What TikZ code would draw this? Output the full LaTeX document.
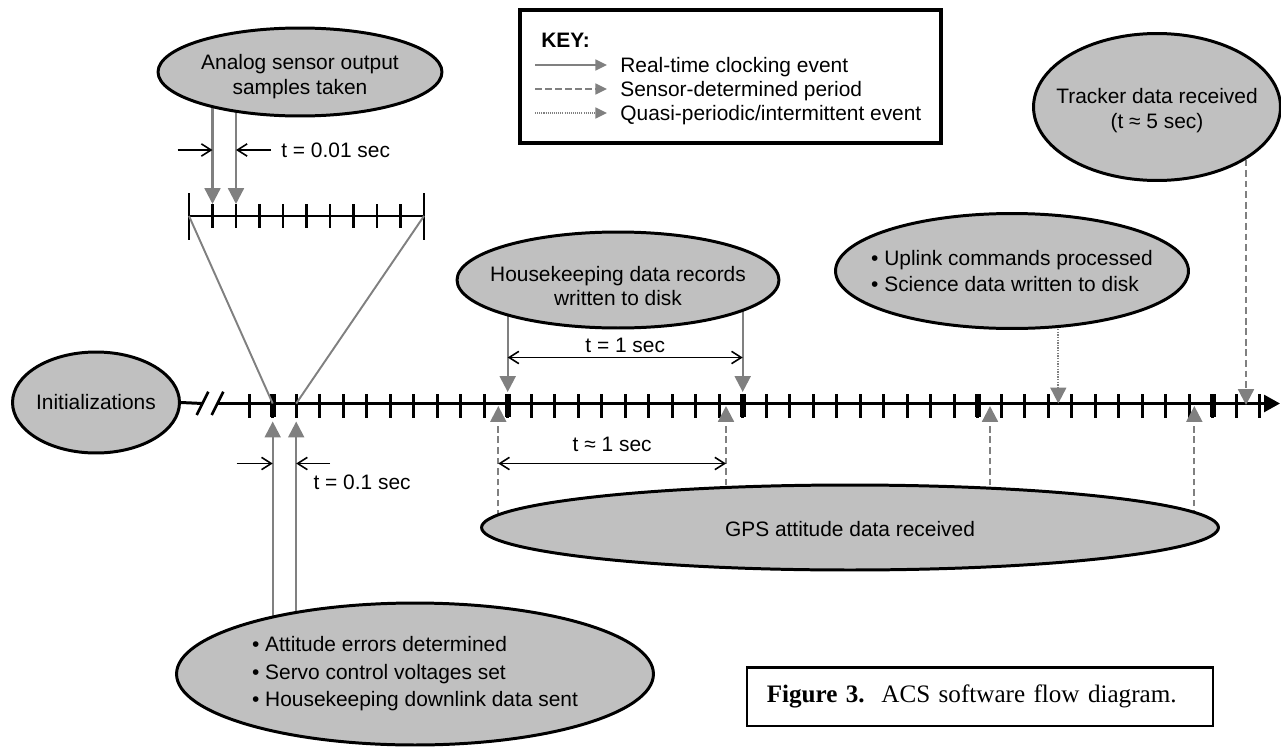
\documentclass[tikz,border=0pt]{standalone}
\usepackage{fontspec}
\setmainfont{Liberation Serif}
\setsansfont{Liberation Sans}
\usepackage{xcolor}
\usepackage{tikz}
\usetikzlibrary{arrows.meta, positioning, shapes.geometric,
                backgrounds, calc}
\definecolor{evtgray}{HTML}{C0C0C0}
\definecolor{arrgray}{HTML}{808080}

\begin{document}
\begin{tikzpicture}[
  x=0.02cm, y=-0.02cm,
  font=\sffamily\fontsize{11.9}{14.2}\selectfont,
  evt/.style = {
    ellipse, draw, line width=1.7pt, fill=evtgray, inner sep=0pt
  },
  evtxt/.style  = {inner sep=0pt, align=center},
  evlist/.style = {inner sep=0pt, align=left},
  clk/.style    = {-{Triangle[length=9pt,width=9pt]}, line width=1.3pt, arrgray},
  sns/.style    = {clk, dash pattern=on 3.8pt off 2.2pt},
  qpi/.style    = {clk, line width=1.1pt, dash pattern=on 0.8pt off 0.7pt},
  keyclk/.style = {-{Triangle[length=6.6pt,width=6.2pt]}, line width=1pt, arrgray},
  keysns/.style = {keyclk, dash pattern=on 3.8pt off 1.9pt},
  keyqpi/.style = {keyclk, dash pattern=on 0.6pt off 0.6pt},
  keytxt/.style = {anchor=west, inner sep=0pt, text height=8.5pt, text depth=0pt},
  dim/.style    = {-{Straight Barb[length=5.5pt,width=7pt]}, line width=0.9pt},
  dimlbl/.style = {anchor=west, inner sep=0pt},
  axis/.style   = {line width=1.7pt},
  tmark/.style  = {line width=1.5pt},
  tmajor/.style = {line width=3.6pt},
  capbox/.style = {
    draw, line width=1.2pt, text width=8.53cm, inner xsep=0.4cm,
    minimum height=1.17cm, align=left,
    font=\rmfamily\fontsize{14.3}{17}\selectfont
  }
]
\useasboundingbox (0,0) rectangle (1281,747);

% events
\node[evt, minimum width=5.68cm, minimum height=1.76cm] (ana) at (300,72) {};
\node[evtxt] (anat) at ([yshift=-0.1cm]ana.center) {Analog sensor output\\samples taken};

\node[evt, minimum width=3.34cm, minimum height=2.02cm] (init) at (96,402.5) {};
\node[evtxt] (initt) at (init.center) {Initializations};

\node[evt, minimum width=6.44cm, minimum height=1.92cm] (hk) at (618,280) {};
\node[evtxt] (hkt) at ([yshift=-0.12cm]hk.center) {Housekeeping data records\\written to disk};

\node[evt, minimum width=7.06cm, minimum height=2.30cm] (upl) at (1012,271) {};
\node[evlist, font=\sffamily\fontsize{11.9}{15.1}\selectfont] (uplt) at (upl.center)
  {• Uplink commands processed\\• Science data written to disk};

\node[evt, minimum width=4.94cm, minimum height=2.94cm] (trk) at (1157,107) {};
\node[evtxt] (trkt) at ([yshift=-0.08cm]trk.center) {Tracker data received\\(t ≈ 5 sec)};

\node[evt, minimum width=14.74cm, minimum height=1.70cm] (gps) at (850,527.5) {};
\node[evtxt] (gpst) at ([yshift=-0.03cm]gps.center) {GPS attitude data received};

\node[evt, minimum width=9.54cm, minimum height=2.84cm] (att) at (415,674) {};
\node[evlist, font=\sffamily\fontsize{11.9}{15.7}\selectfont] (attt) at (att.center)
  {• Attitude errors determined\\• Servo control voltages set\\• Housekeeping downlink data sent};

% key
\node[draw, line width=1.8pt, minimum width=8.42cm, minimum height=2.66cm, inner sep=0pt] (key) at (730.5,76.5) {};
\node[anchor=west, inner sep=0pt, font=\sffamily\bfseries\fontsize{11.9}{14}\selectfont] (keyttl) at (541,40) {KEY:};
\node[keytxt] (k1) at (620,65)  {Real-time clocking event};
\node[keytxt] (k2) at (620,89)  {Sensor-determined period};
\node[keytxt] (k3) at (620,113) {Quasi-periodic/intermittent event};
\draw[keyclk] ([xshift=-1.7cm]k1.west) -- ([xshift=-0.26cm]k1.west);
\draw[keysns] ([xshift=-1.7cm]k2.west) -- ([xshift=-0.26cm]k2.west);
\draw[keyqpi] ([xshift=-1.7cm]k3.west) -- ([xshift=-0.26cm]k3.west);

% caption
\node[capbox] (cap) at (980,696.7) {\textbf{Figure 3.}\ \ ACS software flow diagram.};

% time line and connectors
\foreach \i in {-1,...,42}
  \coordinate (t\i) at (272.7+23.5*\i,403.5);
\foreach \k in {0,...,10}
  \coordinate (s\k) at (189+23.5*\k,216);
\coordinate (brkA) at (202.5,403.5);
\coordinate (brkB) at (217.5,403.5);
\coordinate (tend) at (1280,403.5);
\coordinate (g1) at (498.3,403.5);
\coordinate (g2) at (726,403.5);
\coordinate (g3) at (990,403.5);
\coordinate (g4) at (1194.3,403.5);
\coordinate (up) at (1058.3,403.5);
\coordinate (tk) at (1246,403.5);

\begin{scope}[on background layer]
  \draw[axis] (init.east) -- (brkA);
  \draw[axis, -{Triangle[length=9pt,width=9.5pt]}] (brkB) -- (tend);
  \draw[tmark] (196.7,415) -- (208.3,391.7);
  \draw[tmark] (211.7,415) -- (223.3,391.7);
  \foreach \i in {-1,...,42}
    \draw[tmark] ([yshift=0.19cm]t\i) -- ([yshift=-0.29cm]t\i);
  \foreach \i in {0,10,...,40}
    \draw[tmajor] ([yshift=0.19cm]t\i) -- ([yshift=-0.26cm]t\i);

  \draw[tmark] (s0) -- (s10);
  \draw[tmark] ([yshift=0.46cm]s0) -- ([yshift=-0.48cm]s0);
  \draw[tmark] ([yshift=0.46cm]s10) -- ([yshift=-0.48cm]s10);
  \foreach \k in {1,...,9}
    \draw[tmark] ([yshift=0.24cm]s\k) -- ([yshift=-0.24cm]s\k);
  \draw[arrgray, line width=1.1pt] (s0) -- (t0);
  \draw[arrgray, line width=1.1pt] (s10) -- (t1);

  \draw[clk] (s1 |- ana.center) -- ([yshift=0.24cm]s1);
  \draw[clk] (s2 |- ana.center) -- ([yshift=0.24cm]s2);
  \draw[clk] (t10 |- hk.center) -- ([yshift=0.23cm]t10);
  \draw[clk] (t20 |- hk.center) -- ([yshift=0.23cm]t20);
  \draw[clk] (t0 |- att.center) -- ([yshift=-0.36cm]t0);
  \draw[clk] (t1 |- att.center) -- ([yshift=-0.36cm]t1);
  \foreach \g in {g1,g2,g3,g4}
    \draw[sns] (\g |- gps.center) -- ([yshift=-0.05cm]\g);
  \draw[qpi] (up |- upl.center) -- (up);
  \draw[sns] (tk |- trk.center) -- ([yshift=-0.03cm]tk);
\end{scope}

% spacings
\draw[dim] ($(s1)+(-35,-66)$) -- ($(s1)+(0,-66)$);
\draw[dim] ($(s2)+(35,-66)$) -- ($(s2)+(0,-66)$);
\node[dimlbl] (d001) at ($(s2)+(45,-66)$) {t = 0.01 sec};

\draw[dim, {Straight Barb[length=5.5pt,width=7pt]}-{Straight Barb[length=5.5pt,width=7pt]}]
  ($(t10)+(0,-46)$) -- node[above, inner sep=2.5pt] (d1) {t = 1 sec} ($(t20)+(0,-46)$);
\draw[dim, {Straight Barb[length=5.5pt,width=7pt]}-{Straight Barb[length=5.5pt,width=7pt]}]
  ($(g1)+(0,60)$) -- node[above, inner sep=6.5pt] (d1a) {t ≈ 1 sec} ($(g2)+(0,60)$);

\draw[dim] ($(t0)+(-36,60)$) -- ($(t0)+(0,60)$);
\draw[dim] ($(t1)+(34,60)$) -- ($(t1)+(0,60)$);
\node[dimlbl] (d01) at ($(t1)+(17,79)$) {t = 0.1 sec};

\end{tikzpicture}
\end{document}
